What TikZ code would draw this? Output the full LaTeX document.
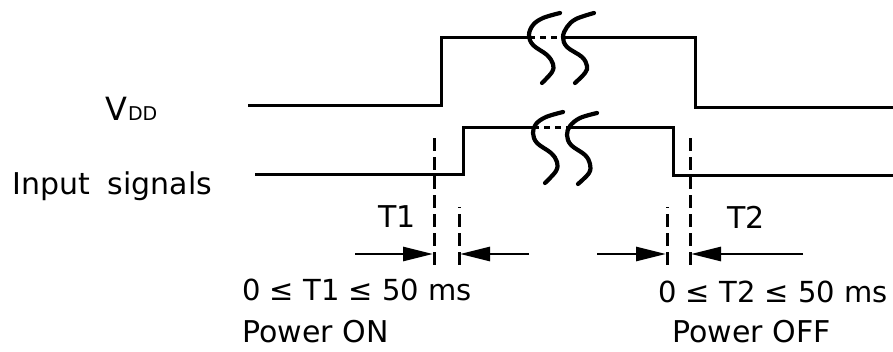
\documentclass[tikz,border=0pt]{standalone}
\usepackage{fontspec}
\setmainfont{DejaVu Sans}
\usetikzlibrary{arrows.meta}

\begin{document}
\begin{tikzpicture}[x=1pt,y=-1pt,
  wave/.style={line width=3pt,line join=miter},
  brk/.style={line width=4.2pt,line cap=round},
  dots/.style={line width=3pt,dash pattern=on 6pt off 5pt},
  guide/.style={line width=3pt,dash pattern=on 13pt off 6pt},
  dim/.style={line width=2.8pt,-{Triangle[length=30pt,width=14pt]}},
  lbl/.style={font=\fontsize{30}{36}\selectfont,inner sep=0pt,anchor=base west},
  sml/.style={lbl,font=\fontsize{29}{35}\selectfont}
]
\useasboundingbox (0,0) rectangle (893,352);

% ---- Labels -------------------------------------------------
\node[lbl] (vdd) at (105,121)
  {\fontsize{32}{36}\selectfont V\hspace{1pt}{\fontsize{19}{19}\selectfont DD}};
\node[lbl] (inp) at (12,195)  {Input\hspace{18pt}signals};
\node[lbl] (t1)  at (378,228) {T1};
\node[lbl] (t2)  at (727,229) {T2};
\node[sml] (on1) at (242,301) {0 ≤ T1 ≤ 50 ms};
\node[lbl] (on2) at (242,342) {Power ON};
\node[sml] (of1) at (658,302) {0 ≤ T2 ≤ 50 ms};
\node[lbl] (of2) at (672,342) {Power OFF};

% ---- VDD waveform -------------------------------------------
\draw[wave] (248,106) -- (441,106) -- (441,38) -- (529,38);
\draw[dots] (529,38) -- (564,38);
\draw[wave] (564,38) -- (695,38) -- (695,108) -- (893,108);

% ---- Input signals waveform ---------------------------------
\draw[wave] (255,175) -- (463,175) -- (463,128) -- (533,128);
\draw[dots] (533,128) -- (567,128);
\draw[wave] (567,128) -- (673,128) -- (673,176) -- (893,176);

% ---- Break marks --------------------------------------------
\draw[brk] plot[smooth,tension=0.6] coordinates
  {(560,13) (543,18) (533,25) (529,35) (533,45) (547,55) (553,64) (552,72) (542,83)};
\draw[brk] plot[smooth,tension=0.6] coordinates
  {(594,13) (576,19) (567,27) (563,37) (567,47) (582,57) (587,66) (585,73) (575,83)};
\draw[brk] plot[smooth,tension=0.6] coordinates
  {(563,112) (546,117) (536,124) (533,133) (537,143) (551,153) (557,162) (556,171) (545,183)};
\draw[brk] plot[smooth,tension=0.6] coordinates
  {(597,113) (580,118) (570,126) (567,135) (571,145) (585,155) (590,164) (589,173) (578,184)};

% ---- Timing guides ------------------------------------------
\coordinate (g1) at (434,265);
\coordinate (g2) at (459,265);
\coordinate (g3) at (667,265);
\coordinate (g4) at (690,265);
\draw[guide] (g1) -- (434,138);
\draw[guide] (g2) -- (459,207);
\draw[guide] (g3) -- (667,207);
\draw[guide] (g4) -- (690,138);

% ---- Dimension arrows ---------------------------------------
\coordinate (a1) at (355,254);
\coordinate (a2) at (529,254);
\coordinate (a3) at (597,254);
\coordinate (a4) at (803,254);
\draw[dim] (a1) -- (433,254);
\draw[dim] (a2) -- (460,254);
\draw[dim] (a3) -- (666,254);
\draw[dim] (a4) -- (691,254);

\end{tikzpicture}
\end{document}
